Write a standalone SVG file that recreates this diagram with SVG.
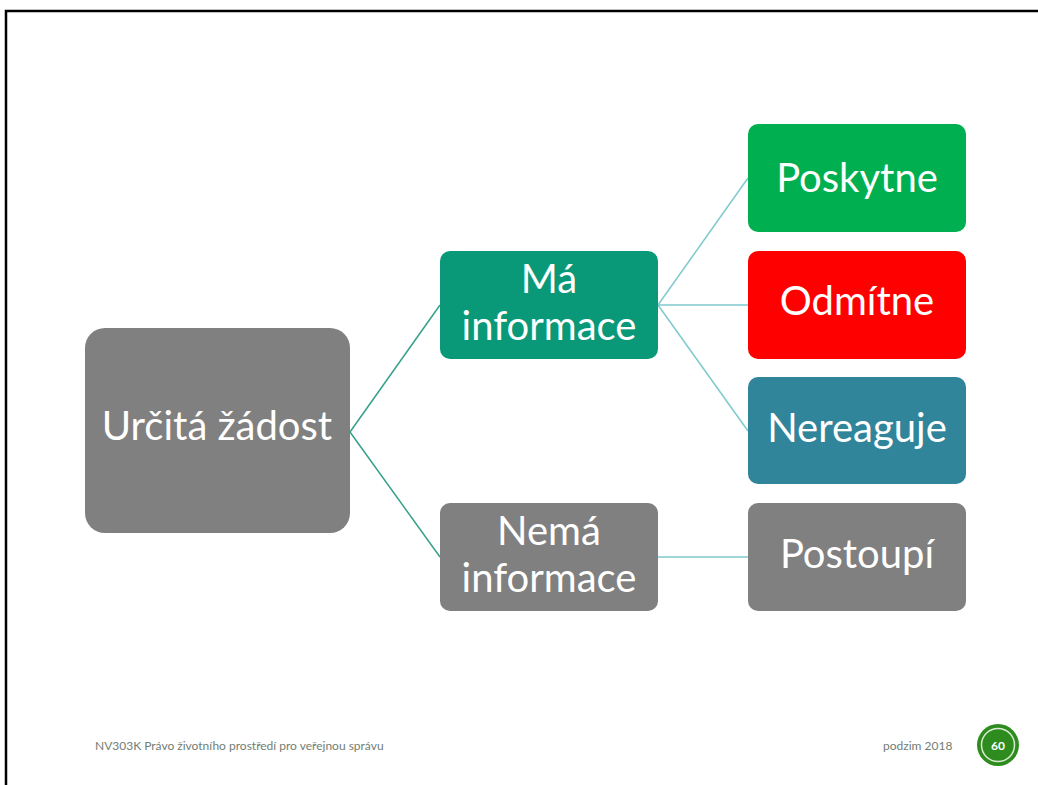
<svg xmlns="http://www.w3.org/2000/svg" width="1038" height="785" viewBox="0 0 1038 785">
<style>
.t{font-family:Lato,"Open Sans","Liberation Sans",sans-serif;fill:#ffffff;text-anchor:middle;font-size:40px;font-weight:400}
.f{font-family:Lato,"Liberation Sans",sans-serif;fill:#737d73;font-size:12px}
.c1{stroke:#35a08a;stroke-width:1.5;fill:none}
.c2{stroke:#7ec9cc;stroke-width:1.5;fill:none}
</style>
<rect x="0" y="0" width="1038" height="785" fill="#ffffff"/>
<rect x="6" y="11" width="1040" height="790" fill="none" stroke="#000000" stroke-width="2.5"/>
<g id="connectors">
<line class="c1" x1="350" y1="432" x2="440" y2="305"/>
<line class="c1" x1="350" y1="432" x2="440" y2="557"/>
<line class="c2" x1="658" y1="305" x2="748" y2="178"/>
<line class="c2" x1="658" y1="305" x2="748" y2="305"/>
<line class="c2" x1="658" y1="305" x2="748" y2="431"/>
<line class="c2" x1="658" y1="557" x2="748" y2="557"/>
</g>
<g id="n-zadost">
<rect x="85" y="328" width="265" height="205" rx="20" fill="#808080"/>
<text class="t" x="217" y="440">Určitá žádost</text>
</g>
<g id="n-ma">
<rect x="440" y="251" width="218" height="108" rx="10" fill="#0a9978"/>
<text class="t" x="549" y="293">Má</text>
<text class="t" x="549" y="340">informace</text>
</g>
<g id="n-nema">
<rect x="440" y="503" width="218" height="108" rx="10" fill="#808080"/>
<text class="t" x="549" y="545">Nemá</text>
<text class="t" x="549" y="592">informace</text>
</g>
<g id="n-poskytne">
<rect x="748" y="124" width="218" height="108" rx="10" fill="#00b050"/>
<text class="t" x="857" y="192">Poskytne</text>
</g>
<g id="n-odmitne">
<rect x="748" y="251" width="218" height="108" rx="10" fill="#ff0000"/>
<text class="t" x="857" y="315">Odmítne</text>
</g>
<g id="n-nereaguje">
<rect x="748" y="377" width="218" height="107" rx="10" fill="#31859b"/>
<text class="t" x="857" y="442">Nereaguje</text>
</g>
<g id="n-postoupi">
<rect x="748" y="503" width="218" height="108" rx="10" fill="#808080"/>
<text class="t" x="857" y="568">Postoupí</text>
</g>
<g id="footer">
<text class="f" x="95" y="750">NV303K Právo životního prostředí pro veřejnou správu</text>
<text class="f" x="883" y="750">podzim 2018</text>
<circle cx="998" cy="745" r="21" fill="#2e8b1e"/>
<circle cx="998" cy="745" r="16.5" fill="none" stroke="#d9ecd2" stroke-width="1.5"/>
<text x="998" y="750" font-family="Lato,'Liberation Sans',sans-serif" font-size="12" font-weight="bold" fill="#ffffff" text-anchor="middle">60</text>
</g>
</svg>
